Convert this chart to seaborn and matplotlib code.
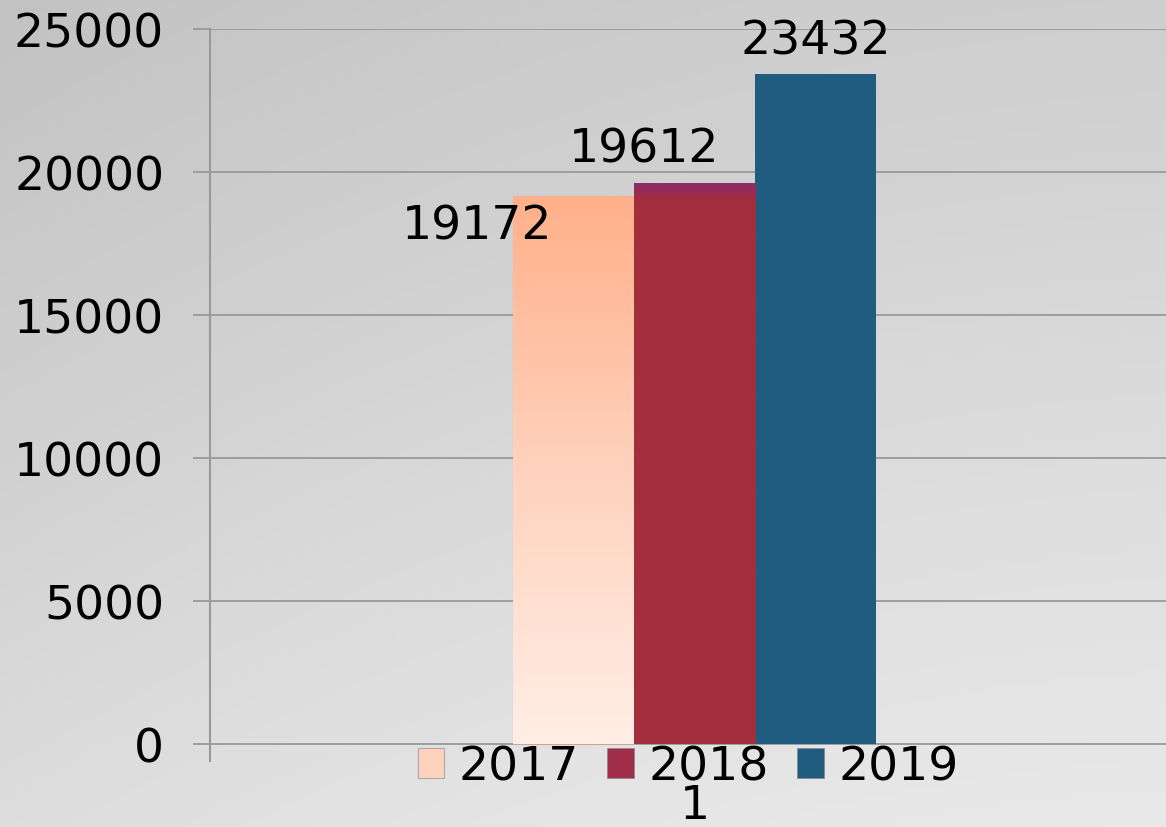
import numpy as np
import pandas as pd
import matplotlib
matplotlib.use("Agg")
import matplotlib.pyplot as plt
import seaborn as sns
from matplotlib.colors import LinearSegmentedColormap
from matplotlib.patches import Patch

# ---- data ----
categories = ["1"]
years = ["2017", "2018", "2019"]
values = [19172, 19612, 23432]
y_ticks = [0, 5000, 10000, 15000, 20000, 25000]

df = pd.DataFrame({"cat": categories * len(years), "year": years, "value": values})

sns.set_theme(style="white")
plt.rcParams["font.family"] = ["DejaVu Sans"]

FS = 34
palette = {"2017": "#FFCDB5", "2018": "#A32E3C", "2019": "#1F5C80"}

fig = plt.figure(figsize=(11.66, 8.28), dpi=100)

# background gradient
bg = fig.add_axes([0, 0, 1, 1], zorder=-10)
yy, xx = np.mgrid[0:1:200j, 0:1:200j]
grad = 0.55 * yy + 0.25 * xx - 0.2 * (xx - 0.5) ** 2
grad = (grad - grad.min()) / (grad.max() - grad.min())
bg_cmap = LinearSegmentedColormap.from_list("bg", ["#c2c2c2", "#e9e9e9"])
bg.imshow(grad, cmap=bg_cmap, aspect="auto", extent=[0, 1, 0, 1], origin="upper")
bg.axis("off")

ax = fig.add_axes([210 / 1166, 66 / 828, 969 / 1166, 732 / 828])
ax.set_facecolor("none")

sns.barplot(data=df, x="cat", y="value", hue="year", palette=palette,
            width=0.375, saturation=1, ax=ax, legend=False, zorder=3,
            edgecolor="none", linewidth=0)

# gradient fills
grad_specs = {
    0: ([(0.0, "#FFEEE6"), (0.5, "#FFD2BD"), (1.0, "#FFB08A")], "#c8a898"),
    1: ([(0.0, "#A32E3C"), (0.97, "#A32E3C"), (1.0, "#8E2C6A")], None),
}
patches = list(ax.patches)
for i, p in enumerate(patches):
    if i in grad_specs:
        cols, ec = grad_specs[i]
        cm = LinearSegmentedColormap.from_list(f"g{i}", cols)
        x0, y0 = p.get_x(), p.get_y()
        w, h = p.get_width(), p.get_height()
        arr = np.linspace(0, 1, 512).reshape(-1, 1)
        im = ax.imshow(arr, cmap=cm, aspect="auto", origin="lower",
                       extent=[x0, x0 + w, y0, y0 + h], zorder=4,
                       interpolation="bilinear")
        im.set_clip_path(p)
        if ec:
            p.set_edgecolor(ec)
            p.set_linewidth(0.8)
ax.set_xlim(-0.5, 0.5)
ax.set_ylim(-600, 25000)

# data labels
offsets = [(-69, -18), (-36, 28), (0, 27)]
for p, v, off in zip(patches, values, offsets):
    ax.annotate(str(v), (p.get_x() + p.get_width() / 2, p.get_height()),
                xytext=off, textcoords="offset points", ha="center",
                va="center_baseline", fontsize=FS, color="black", zorder=6)

# axes styling
ax.set_yticks(y_ticks)
ax.set_yticklabels([str(t) for t in y_ticks])
ax.yaxis.grid(True, color="#999999", linewidth=1.3, zorder=0)
ax.set_axisbelow(True)
for s in ["top", "right", "bottom"]:
    ax.spines[s].set_visible(False)
ax.spines["left"].set_color("#999999")
ax.spines["left"].set_linewidth(1.5)
ax.tick_params(axis="y", length=12, width=1.3, color="#999999", labelsize=FS,
               labelcolor="black", pad=21, left=True, direction="out")
ax.tick_params(axis="x", length=0, labelsize=FS, labelcolor="black", pad=16)
ax.set_xlabel("")
ax.set_ylabel("")

# legend
handles = [Patch(facecolor="#FFD2BC", edgecolor="#aaaaaa", linewidth=0.8),
           Patch(facecolor="#A02E48", edgecolor="#888888", linewidth=0.5),
           Patch(facecolor="#1F5C80", edgecolor="#888888", linewidth=0.5)]
fig.legend(handles, years, loc="center", bbox_to_anchor=(688 / 1166, 1 - 768 / 828),
           ncol=3, frameon=False, fontsize=FS, handlelength=0.57, handleheight=0.6,
           handletextpad=0.3, columnspacing=0.6, borderpad=0, labelcolor="black")

fig.savefig("out.png", dpi=100)
